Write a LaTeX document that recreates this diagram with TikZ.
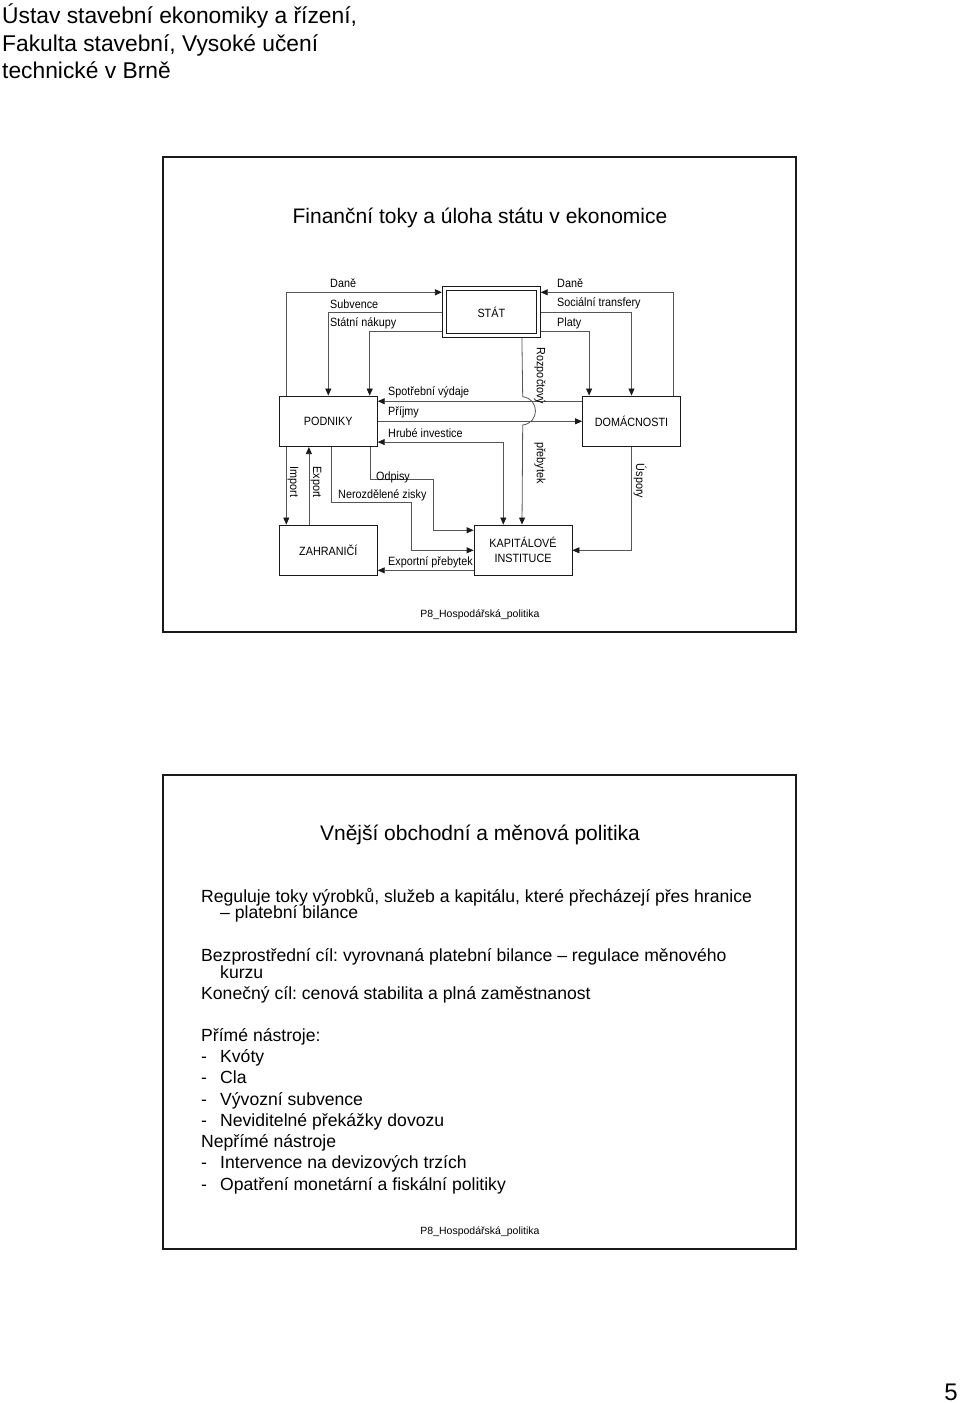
\documentclass[tikz,border=0pt]{standalone}
\usepackage{fontspec}
\setmainfont{Liberation Sans}
\newfontfamily\narrowfont[FakeStretch=0.9]{Liberation Sans}
\usepackage{tikz}
\usetikzlibrary{arrows.meta,positioning,calc}
\usepackage{xcolor}
\definecolor{ink}{HTML}{1A1A1A}
\definecolor{wire}{HTML}{555555}
\frenchspacing

\begin{document}
\begin{tikzpicture}[x=1pt, y=-1pt, >={Triangle[length=7pt,width=6pt,color=ink]},
  box/.style={draw=ink, line width=0.8pt, minimum width=98pt, minimum height=50.7pt,
    inner sep=0pt, align=center, font=\narrowfont\fontsize{12}{15}\selectfont},
  flow/.style={draw=wire, line width=0.8pt, ->},
  lbl/.style={anchor=base west, inner sep=0pt, font=\narrowfont\fontsize{12}{14}\selectfont},
  vlbl/.style={rotate=-90, inner sep=0pt, font=\narrowfont\fontsize{12}{14}\selectfont},
  body/.style={anchor=base west, inner sep=0pt, font=\fontsize{17.6}{19}\selectfont},
  foot/.style={anchor=base, inner sep=0pt, font=\fontsize{10.5}{12}\selectfont}]
  \useasboundingbox (0,0) rectangle (960,1403);

  % Header
  \node[anchor=base west, inner sep=0pt, font=\fontsize{22.8}{27}\selectfont] (head1) at (2,23) {Ústav stavební ekonomiky a řízení,};
  \node[anchor=base west, inner sep=0pt, font=\fontsize{22.8}{27}\selectfont] (head2) at (2,51) {Fakulta stavební, Vysoké učení};
  \node[anchor=base west, inner sep=0pt, font=\fontsize{22.8}{27}\selectfont] (head3) at (2,78) {technické v Brně};

  % Slide 1
  \draw[ink, line width=2pt] (163,157) rectangle (796,632);
  \node[anchor=base, inner sep=0pt, font=\fontsize{21}{25}\selectfont] (title1) at (480,223.5) {Finanční toky a úloha státu v ekonomice};

  % Sectors
  \node[box] (stat) at (491.3,312) {STÁT};
  \draw[ink, line width=0.8pt] ([shift={(4,4.3)}]stat.north west) rectangle ([shift={(-4,-4.3)}]stat.south east);
  \node[box] (podniky) at (328.3,421.3) {PODNIKY};
  \node[box] (domacnosti) at (631.5,421.3) {DOMÁCNOSTI};
  \node[box] (zahranici) at (328.3,550.3) {ZAHRANIČÍ};
  \node[box] (kap) at (523,550.3) {KAPITÁLOVÉ\\INSTITUCE};

  % Flows around the state
  \draw[flow] ($(podniky.north west)+(7.4,0)$) |- ($(stat.west)+(0,-19.7)$);
  \draw[flow] (stat.west) -| (podniky.north);
  \draw[flow] ($(stat.west)+(0,19)$) -| ($(podniky.north east)+(-8,0)$);
  \draw[flow] ($(domacnosti.north east)+(-7.4,0)$) |- ($(stat.east)+(0,-19.7)$);
  \draw[flow] (stat.east) -| (domacnosti.north);
  \draw[flow] ($(stat.east)+(0,19)$) -| ($(domacnosti.north west)+(7,0)$);
  \node[lbl] (dane1) at (330,287) {Daně};
  \node[lbl] (subv) at (330,308) {Subvence};
  \node[lbl] (nakupy) at (330,326) {Státní nákupy};
  \node[lbl] (dane2) at (557,287) {Daně};
  \node[lbl] (transf) at (557,306) {Sociální transfery};
  \node[lbl] (platy) at (557,326) {Platy};

  % Firms and households
  \draw[flow] ($(domacnosti.north west)+(0,5.7)$) -- ($(podniky.north east)+(0,5.7)$);
  \draw[flow] (podniky.east) -- (domacnosti.west);
  \draw[flow, <->] ($(podniky.south east)+(0,-5)$) -| ($(kap.north west)+(29.7,0)$);
  \node[lbl] (spotr) at (388,395) {Spotřební výdaje};
  \node[lbl] (prijmy) at (388,415) {Příjmy};
  \node[lbl] (hrube) at (388,437) {Hrubé investice};

  % Budget surplus with hop
  \coordinate (hopa) at (522.7,396.7);
  \coordinate (hopb) at (522.7,425);
  \draw[flow] ($(stat.south west)+(80,0)$) -- (hopa) .. controls +(17,2) and +(17,-2) .. (hopb) -- ($(kap.north west)+(48.4,0)$);
  \node[vlbl] (rozp) at (540,376) {Rozpočtový};
  \node[vlbl] (preb) at (540,463) {přebytek};

  % Savings
  \draw[flow] (domacnosti.south) |- (kap.east);
  \node[vlbl] (uspory) at (640,481) {Úspory};

  % Foreign sector
  \draw[flow] ($(podniky.south west)+(7.4,0)$) -- ($(zahranici.north west)+(7.4,0)$);
  \draw[flow] ($(zahranici.north west)+(30,0)$) -- ($(podniky.south west)+(30,0)$);
  \node[vlbl] (import) at (293,482) {Import};
  \node[vlbl] (export) at (316,482) {Export};
  \draw[flow] ($(kap.south west)+(0,-5.7)$) -- ($(zahranici.south east)+(0,-5.7)$);
  \node[lbl] (expreb) at (388,565) {Exportní přebytek};

  % Firms to capital institutions
  \coordinate (odpbend) at (433.3,479.3);
  \coordinate (nerbend) at (411,502.3);
  \draw[flow] ($(podniky.south east)+(-7.3,0)$) |- (odpbend) |- ($(kap.north west)+(0,5.7)$);
  \draw[flow] ($(podniky.south west)+(52.4,0)$) |- (nerbend) |- (kap.west);
  \node[lbl] (odpisy) at (376,480) {Odpisy};
  \node[lbl] (nerozd) at (338,498) {Nerozdělené zisky};

  \node[foot] (foot1) at (480,617) {P8\_Hospodářská\_politika};

  % Slide 2
  \draw[ink, line width=2pt] (163,775) rectangle (796,1249);
  \node[anchor=base, inner sep=0pt, font=\fontsize{21}{25}\selectfont] (title2) at (480,840.5) {Vnější obchodní a měnová politika};

  \node[body] (t1) at (201,902) {Reguluje toky výrobků, služeb a kapitálu, které přecházejí přes hranice};
  \node[body] (t1b) at (220,918) {– platební bilance};
  \node[body] (t2) at (201,961) {Bezprostřední cíl: vyrovnaná platební bilance – regulace měnového};
  \node[body] (t2b) at (220,978) {kurzu};
  \node[body] (t3) at (201,999) {Konečný cíl: cenová stabilita a plná zaměstnanost};
  \node[body] (t4) at (201,1041) {Přímé nástroje:};
  \node[body] (t5) at (201,1147) {Nepřímé nástroje};
  \foreach \yy/\txt in {1062/Kvóty, 1083/Cla, 1105/Vývozní subvence, 1126/Neviditelné překážky dovozu,
      1168/Intervence na devizových trzích, 1190/Opatření monetární a fiskální politiky} {
    \node[body] at (201,\yy) {-};
    \node[body] at (220,\yy) {\txt};
  }

  \node[foot] (foot2) at (480,1234) {P8\_Hospodářská\_politika};

  % Page number
  \node[anchor=base, inner sep=0pt, font=\fontsize{24}{28}\selectfont] (pagenum) at (951,1400) {5};
\end{tikzpicture}
\end{document}
